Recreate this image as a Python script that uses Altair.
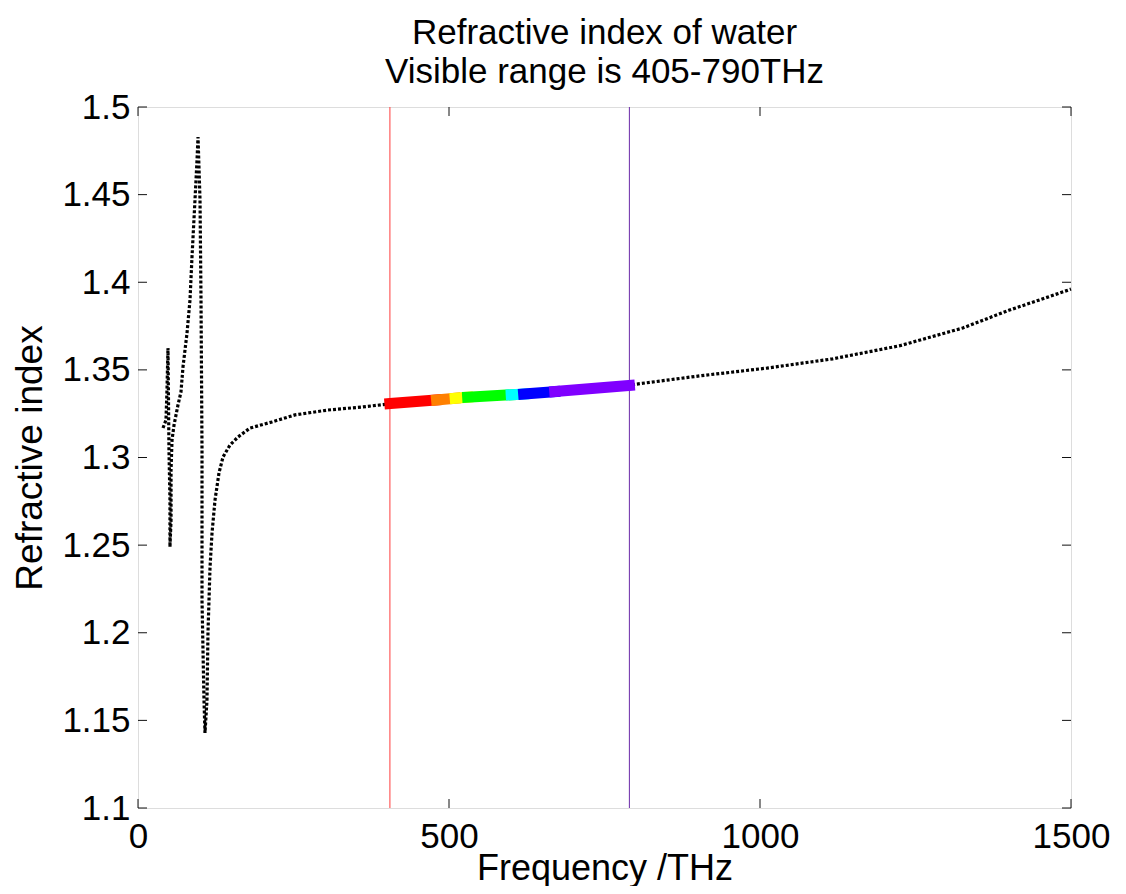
import altair as alt
import pandas as pd

# ---- data ----
# full refractive-index curve, in plotting order (frequency in THz)
curve_freq = [40.2, 45.0, 46.6, 48.2, 49.8, 51.4, 51.4, 53.1, 53.1, 54.7, 57.9, 64.3, 69.1,
              72.3, 78.8, 83.6, 86.8, 91.6, 94.9, 96.5, 99.7, 101.3, 102.9, 102.9, 106.1,
              107.7, 110.9, 112.5, 115.8, 119.0, 123.8, 130.2, 136.7, 147.9, 160.8, 180.1,
              215.4, 252.4, 305.5, 360.1, 401.9, 500, 600, 700, 790, 802, 903.5, 1011,
              1117, 1225, 1326, 1400, 1450, 1500]
curve_n = [1.3168, 1.3214, 1.3385, 1.3625, 1.3043, 1.2757, 1.2489, 1.2643, 1.2929, 1.3100,
           1.3185, 1.3300, 1.3374, 1.3516, 1.3710, 1.3899, 1.4144, 1.4469, 1.4698, 1.4829,
           1.4469, 1.3899, 1.3043, 1.2187, 1.1616, 1.1428, 1.1616, 1.1999, 1.2375, 1.2569,
           1.2757, 1.2912, 1.3003, 1.3071, 1.3117, 1.3168, 1.3203, 1.3243, 1.3271, 1.3288,
           1.3305, 1.3334, 1.3358, 1.3385, 1.3411, 1.3419, 1.3466, 1.3510, 1.3563, 1.3638,
           1.3739, 1.3840, 1.3900, 1.3961]

# visible band: colour boundaries (THz) and index at each boundary
band_edges = [405, 480, 510, 530, 600, 620, 670, 790]
band_n = [1.3308, 1.3328, 1.3338, 1.3344, 1.3358, 1.3362, 1.3376, 1.3411]
band_names = ["red", "orange", "yellow", "green", "cyan", "blue", "violet"]
band_colors = ["#ff0000", "#ff8000", "#ffff00", "#00ff00", "#00ffff", "#0000ff", "#8000ff"]

# vertical limit lines
limit_freq = [405, 790]
limit_colors = ["#ff3b3b", "#6a2aa8"]

x_ticks = [0, 500, 1000, 1500]
y_ticks = [1.1, 1.15, 1.2, 1.25, 1.3, 1.35, 1.4, 1.45, 1.5]

FONT = "Liberation Sans"
W, H = 933, 701

curve_df = pd.DataFrame({"freq": curve_freq, "n": curve_n, "i": list(range(len(curve_freq)))})

band_rows = []
for k, name in enumerate(band_names):
    for j in (k, k + 1):
        band_rows.append({"freq": band_edges[j], "n": band_n[j], "band": name, "k": k})
band_df = pd.DataFrame(band_rows)

lim_df = pd.DataFrame({"freq": limit_freq, "c": limit_colors})
xt_df = pd.DataFrame({"freq": x_ticks})
yt_df = pd.DataFrame({"n": y_ticks})

xscale = alt.Scale(domain=[0, 1500], nice=False, zero=False)
yscale = alt.Scale(domain=[1.1, 1.5], nice=False, zero=False)

base_x_axis = alt.Axis(values=x_ticks, title="Frequency /THz", format="d", grid=False,
                       domain=False, ticks=False, labelFlush=False, labelOverlap=False,
                       labelFont=FONT, labelFontSize=35, labelColor="black", labelPadding=11,
                       titleFont=FONT, titleFontSize=36, titleFontWeight="normal",
                       titleColor="black", titleBaseline="alphabetic", titleY=71)
base_y_axis = alt.Axis(values=y_ticks, title="Refractive index", format=".2~f", grid=False,
                       domain=False, ticks=False, labelFlush=False, labelOverlap=False,
                       labelFont=FONT, labelFontSize=35, labelColor="black", labelPadding=8,
                       titleFont=FONT, titleFontSize=37, titleFontWeight="normal",
                       titleColor="black", titlePadding=12)

limits = alt.Chart(lim_df).mark_rule(strokeWidth=1).encode(
    x=alt.X("freq:Q", scale=xscale, axis=base_x_axis),
    y=alt.value(0), y2=alt.value(H),
    color=alt.Color("c:N", scale=None),
)

curve = alt.Chart(curve_df).mark_line(color="black", strokeWidth=3.2, strokeDash=[3, 2]).encode(
    x=alt.X("freq:Q", scale=xscale),
    y=alt.Y("n:Q", scale=yscale, axis=base_y_axis),
    order="i:Q",
)

band = alt.Chart(band_df).mark_line(strokeWidth=11, strokeCap="square").encode(
    x=alt.X("freq:Q", scale=xscale),
    y=alt.Y("n:Q", scale=yscale),
    detail="band:N",
    color=alt.Color("band:N", scale=alt.Scale(domain=band_names, range=band_colors), legend=None),
    order="k:Q",
)

tick_col = "#111111"
yt_left = alt.Chart(yt_df).mark_rule(color=tick_col, strokeWidth=1).encode(
    y=alt.Y("n:Q", scale=yscale), x=alt.value(0), x2=alt.value(9))
yt_right = alt.Chart(yt_df).mark_rule(color=tick_col, strokeWidth=1).encode(
    y=alt.Y("n:Q", scale=yscale), x=alt.value(W), x2=alt.value(W - 9))
xt_bottom = alt.Chart(xt_df).mark_rule(color=tick_col, strokeWidth=1).encode(
    x=alt.X("freq:Q", scale=xscale), y=alt.value(H), y2=alt.value(H - 9))
xt_top = alt.Chart(xt_df).mark_rule(color=tick_col, strokeWidth=1).encode(
    x=alt.X("freq:Q", scale=xscale), y=alt.value(0), y2=alt.value(9))

chart = alt.layer(limits, curve, band, yt_left, yt_right, xt_bottom, xt_top).properties(
    width=W, height=H,
    title=alt.TitleParams(
        text=["Refractive index of water", "Visible range is 405-790THz"],
        font=FONT, fontSize=35, fontWeight="normal", color="black",
        anchor="middle", lineHeight=39, offset=0,
    ),
    autosize=alt.AutoSizeParams(type="none"),
    padding={"left": 130, "top": 99, "right": 40, "bottom": 78},
).configure_view(stroke="#000000", strokeWidth=1).configure(background="white")

chart.save("out.html", embed_options={"renderer": "svg", "actions": False})
